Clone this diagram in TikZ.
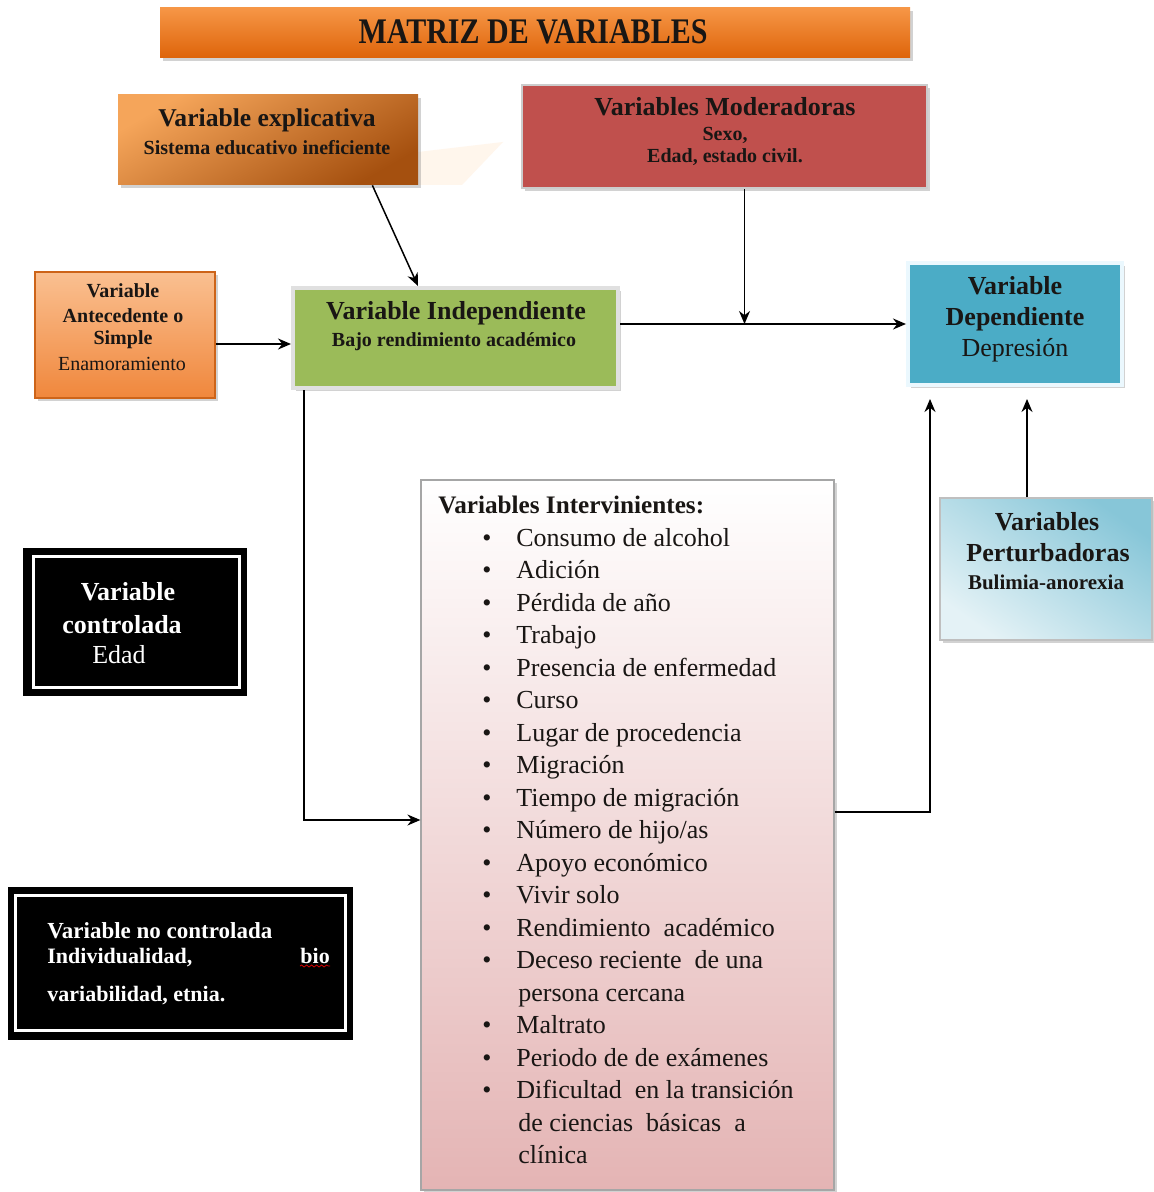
\documentclass[tikz,border=0pt]{standalone}
\usepackage{fontspec}
\setmainfont{Liberation Serif}
\usetikzlibrary{arrows.meta,shadows,calc,decorations.pathmorphing}
\definecolor{ttop}{RGB}{246,150,70}
\definecolor{tbot}{RGB}{222,100,10}
\definecolor{etop}{RGB}{245,165,90}
\definecolor{ebot}{RGB}{165,80,15}
\definecolor{atop}{RGB}{250,192,145}
\definecolor{abot}{RGB}{240,135,60}
\definecolor{aedge}{RGB}{205,100,25}
\definecolor{modred}{RGB}{192,80,77}
\definecolor{indgreen}{RGB}{155,187,89}
\definecolor{depblue}{RGB}{75,172,198}
\definecolor{ptop}{RGB}{135,198,216}
\definecolor{pbot}{RGB}{228,242,246}
\definecolor{ipink}{RGB}{228,180,180}
\definecolor{txtc}{RGB}{25,22,20}
\begin{document}
\begin{tikzpicture}[x=0.5pt,y=-0.5pt,
  box/.style={rectangle, inner sep=0pt},
  shd/.style={drop shadow={shadow xshift=1.5pt, shadow yshift=-1.5pt, opacity=0.35}},
  arr/.style={line width=0.75pt, -{Stealth[length=6.5pt,width=5.5pt]}},
  tbig/.style={font=\bfseries\fontsize{13pt}{15pt}\selectfont, anchor=base, inner sep=0pt, text=txtc},
  tsmall/.style={font=\bfseries\fontsize{10pt}{12pt}\selectfont, anchor=base, inner sep=0pt, text=txtc},
  rbig/.style={font=\fontsize{13pt}{15pt}\selectfont, anchor=base, inner sep=0pt, text=txtc},
  rsmall/.style={font=\fontsize{10pt}{12pt}\selectfont, anchor=base, inner sep=0pt, text=txtc},
  wtxt/.style={text=white}
]
\useasboundingbox[fill=white] (0,0) rectangle (1153,1192);

% title
\node[box, shd, minimum width=375pt, minimum height=25pt, top color=ttop, bottom color=tbot] (title) at (535,33) {};
\node[font=\bfseries\fontsize{15pt}{15pt}\selectfont, anchor=base, inner sep=0pt, text=txtc] (titletxt) at (533,44) {\scalebox{1}[1.2]{MATRIZ DE VARIABLES}};

% variable explicativa
\fill[orange!12, opacity=0.6] (418,152) -- (503,142) -- (462,185) -- (418,185) -- cycle;
\node[box, shd, minimum width=150pt, minimum height=45pt, top color=etop, bottom color=ebot, shading angle=30] (expl) at (268,140) {};
\node[tbig, font=\bfseries\fontsize{12.8pt}{15pt}\selectfont] (explt1) at (267,127) {Variable explicativa};
\node[tsmall] (explt2) at (267,155) {Sistema educativo ineficiente};

% moderadoras
\node[box, fill=modred, draw=black!20, line width=1.2pt, shd, minimum width=202.5pt, minimum height=51.5pt] (mod) at (724.5,136.5) {};
\node[tbig] (modt1) at (725,116) {Variables Moderadoras};
\node[tsmall] (modt2) at (725,141) {Sexo,};
\node[tsmall] (modt3) at (725,163) {Edad, estado civil.};

% antecedente
\node[box, shd, draw=aedge, line width=0.8pt, top color=atop, bottom color=abot, minimum width=90pt, minimum height=63pt] (ant) at (125,335) {};
\node[tsmall] (antt1) at (123,298) {Variable};
\node[tsmall] (antt2) at (123,322) {Antecedente o};
\node[tsmall] (antt3) at (123,344) {Simple};
\node[rsmall] (antt4) at (122,370) {Enamoramiento};

% independiente
\node[box, shd, fill=indgreen, draw=black!12, line width=2pt, minimum width=162.5pt, minimum height=50pt] (ind) at (455.5,338) {};
\node[tbig] (indt1) at (456,320) {Variable Independiente};
\node[tsmall] (indt2) at (454,346) {Bajo rendimiento académico};

% dependiente
\node[box, shd, fill=depblue, draw=cyan!8, line width=2pt, minimum width=107pt, minimum height=61pt] (dep) at (1015,324) {};
\node[tbig] (dept1) at (1015,295) {Variable};
\node[tbig] (dept2) at (1015,326) {Dependiente};
\node[rbig] (dept3) at (1015,357) {Depresión};

% perturbadoras
\node[box, shd, draw=black!25, line width=0.6pt, top color=ptop, bottom color=pbot, shading angle=-35, minimum width=106pt, minimum height=71pt] (pert) at (1046,569) {};
\node[tbig] (pertt1) at (1047,530) {Variables};
\node[tbig] (pertt2) at (1048,561) {Perturbadoras};
\node[tsmall, font=\bfseries\fontsize{10.5pt}{12pt}\selectfont] (pertt3) at (1046,589) {Bulimia-anorexia};

% controlada
\node[box, fill=black, minimum width=112pt, minimum height=74pt] (ctrl) at (134.5,622) {};
\draw[white, line width=1.5pt] ([xshift=5.5pt,yshift=-4.5pt]ctrl.north west) rectangle ([xshift=-3.5pt,yshift=4.5pt]ctrl.south east);
\node[tbig, wtxt] (ctrlt1) at (128,600) {Variable};
\node[tbig, wtxt] (ctrlt2) at (122,633) {controlada};
\node[rbig, wtxt] (ctrlt3) at (119,663) {Edad};

% no controlada
\node[box, fill=black, minimum width=172.5pt, minimum height=76.5pt] (noctrl) at (180.5,963.5) {};
\draw[white, line width=1.3pt] ([xshift=4pt,yshift=-4.5pt]noctrl.north west) rectangle ([xshift=-4pt,yshift=5pt]noctrl.south east);
\node[tbig, wtxt, anchor=base west, font=\bfseries\fontsize{11.5pt}{14pt}\selectfont] (nct1) at (47,938) {Variable no controlada};
\node[tbig, wtxt, anchor=base west, font=\bfseries\fontsize{11pt}{14pt}\selectfont] (nct2) at (47,963) {Individualidad,};
\node[tbig, wtxt, anchor=base west, font=\bfseries\fontsize{11pt}{14pt}\selectfont] (nct3) at (300,963) {bio};
\draw[red!80!black, line width=0.4pt, decorate, decoration={snake, amplitude=0.5pt, segment length=2.5pt}] ([yshift=-1.5pt]nct3.base west) -- ([yshift=-1.5pt]nct3.base east);
\node[tbig, wtxt, anchor=base west, font=\bfseries\fontsize{11pt}{14pt}\selectfont] (nct4) at (47,1001) {variabilidad, etnia.};

% intervinientes
\node[box, shd, draw=black!35, line width=0.6pt, top color=white, bottom color=ipink, minimum width=206.5pt, minimum height=355pt] (inter) at (627.5,835) {};
\node[anchor=north west, inner sep=0pt, align=left, text=txtc, font=\fontsize{13pt}{16.25pt}\selectfont] (intert) at (438,496) {%
{\bfseries\fontsize{12.6pt}{16.25pt}\selectfont Variables Intervinientes:}\\
\hspace*{22pt}\makebox[17pt][l]{•}Consumo de alcohol\\
\hspace*{22pt}\makebox[17pt][l]{•}Adición\\
\hspace*{22pt}\makebox[17pt][l]{•}Pérdida de año\\
\hspace*{22pt}\makebox[17pt][l]{•}Trabajo\\
\hspace*{22pt}\makebox[17pt][l]{•}Presencia de enfermedad\\
\hspace*{22pt}\makebox[17pt][l]{•}Curso\\
\hspace*{22pt}\makebox[17pt][l]{•}Lugar de procedencia\\
\hspace*{22pt}\makebox[17pt][l]{•}Migración\\
\hspace*{22pt}\makebox[17pt][l]{•}Tiempo de migración\\
\hspace*{22pt}\makebox[17pt][l]{•}Número de hijo/as\\
\hspace*{22pt}\makebox[17pt][l]{•}Apoyo económico\\
\hspace*{22pt}\makebox[17pt][l]{•}Vivir solo\\
\hspace*{22pt}\makebox[17pt][l]{•}Rendimiento\ \ académico\\
\hspace*{22pt}\makebox[17pt][l]{•}Deceso reciente\ \ de una\\
\hspace*{40pt}persona cercana\\
\hspace*{22pt}\makebox[17pt][l]{•}Maltrato\\
\hspace*{22pt}\makebox[17pt][l]{•}Periodo de de exámenes\\
\hspace*{22pt}\makebox[17pt][l]{•}Dificultad\ \ en la transición\\
\hspace*{40pt}de ciencias\ \ básicas\ \ a\\
\hspace*{40pt}clínica};

% connectors
\draw[arr] ([xshift=-23pt]expl.south east) -- ([xshift=-18.75pt]ind.north);
\coordinate (ms) at ([xshift=10pt]mod.south);
\coordinate (mj) at (ms |- dep.west);
\draw[arr] (ms) -- (mj);
\draw[arr] (ind.east |- dep.west) -- (dep.west);
\coordinate (a1) at ([yshift=-4.5pt]ant.east);
\draw[arr] (a1) -- (a1 -| ind.west);
\coordinate (b1) at ([xshift=6.5pt]ind.south west);
\coordinate (b2) at ([yshift=7.5pt]inter.west);
\draw[arr] (b1) |- (b2);
\coordinate (c1) at ([yshift=11.5pt]inter.east);
\coordinate (c2) at ([xshift=-42.5pt]dep.south);
\draw[arr, shorten >=6pt] (c1) -| (c2);
\coordinate (p1) at ([xshift=-9.5pt]pert.north);
\draw[arr, shorten >=6pt] (p1) -- (p1 |- dep.south);
\end{tikzpicture}
\end{document}
